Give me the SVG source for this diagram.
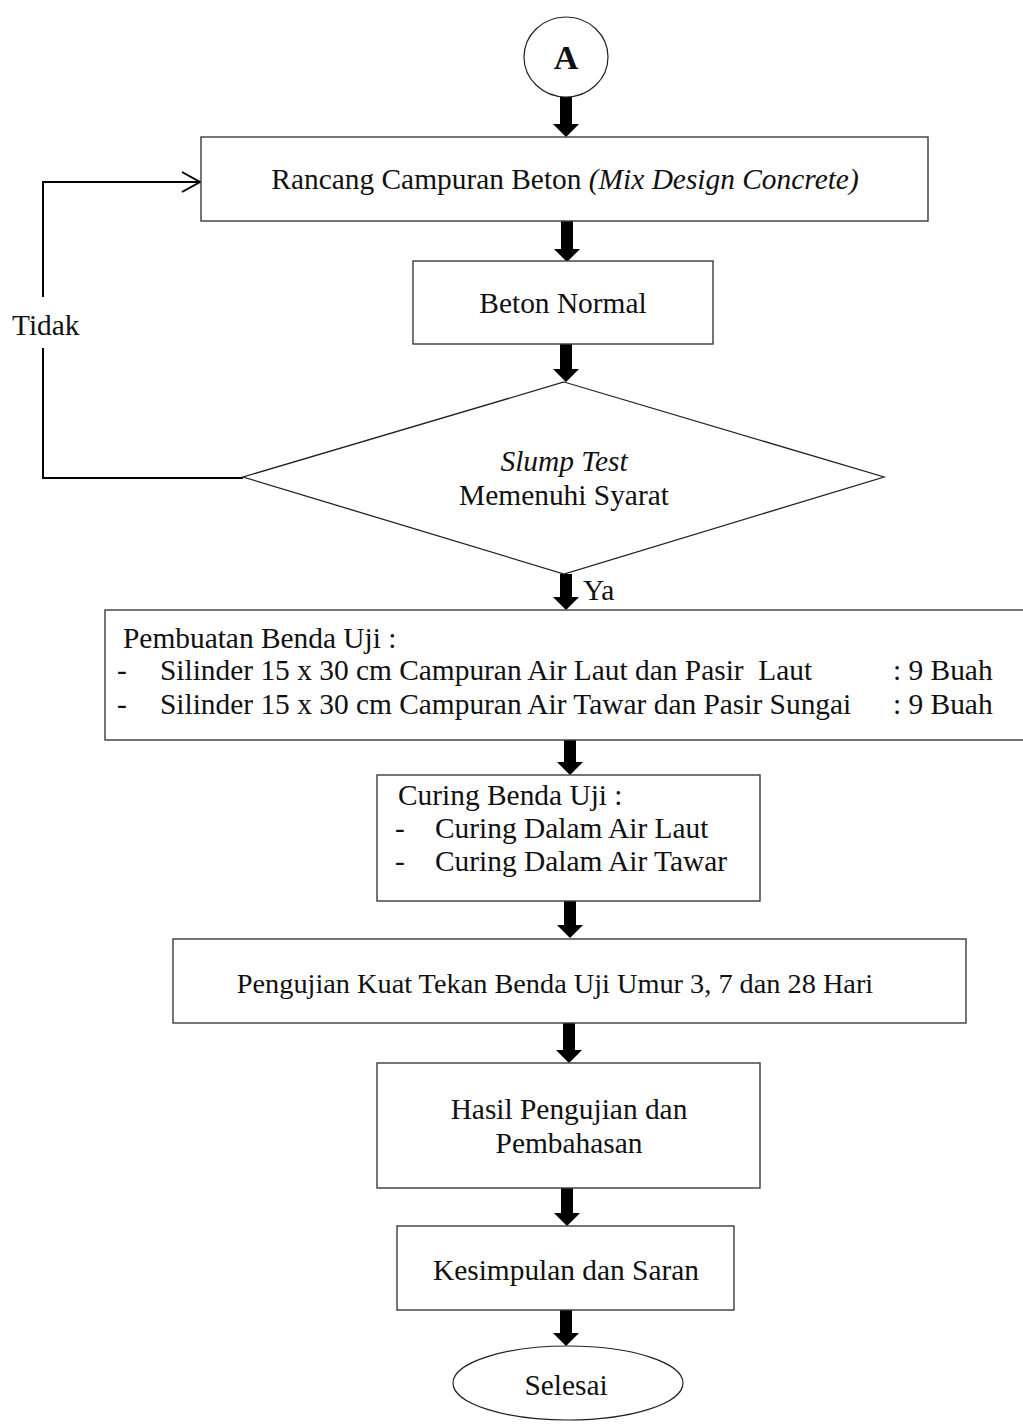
<svg xmlns="http://www.w3.org/2000/svg" width="1023" height="1427" viewBox="0 0 1023 1427">
<style>
.box{fill:#fff;stroke:#3a3a3a;stroke-width:1.4}
.t{font-family:"Liberation Serif","Times New Roman",serif;font-size:29.4px;fill:#111}
.c{text-anchor:middle}
.i{font-style:italic}
.arr{fill:#000}
.ln{fill:none;stroke:#000;stroke-width:2}
</style>
<rect width="1023" height="1427" fill="#fff"/>
<g id="connectors">
<polygon class="arr" points="560,97 572,97 572,124 579,124 566,137 553,124 560,124"/>
<polygon class="arr" points="561,221 573,221 573,249 580,249 567,262 554,249 561,249"/>
<polygon class="arr" points="560,344 572,344 572,369 579,369 566,382 553,369 560,369"/>
<polygon class="arr" points="560,574 572,574 572,597 579,597 566,610 553,597 560,597"/>
<polygon class="arr" points="564,740 576,740 576,762 583,762 570,775 557,762 564,762"/>
<polygon class="arr" points="564,901 576,901 576,925 583,925 570,938 557,925 564,925"/>
<polygon class="arr" points="563,1023 575,1023 575,1050 582,1050 569,1063 556,1050 563,1050"/>
<polygon class="arr" points="561,1188 573,1188 573,1213 580,1213 567,1226 554,1213 561,1213"/>
<polygon class="arr" points="560,1310 572,1310 572,1333 579,1333 566,1346 553,1333 560,1333"/>
<polyline class="ln" points="243,478 43,478 43,348"/>
<polyline class="ln" points="43,297 43,182 200,182"/>
<polyline class="ln" points="182,172 200,182 182,192"/>
<text class="t" x="12" y="335">Tidak</text>
<text class="t" x="583" y="600">Ya</text>
</g>
<g id="start">
<ellipse cx="566" cy="57" rx="42" ry="40" fill="#fff" stroke="#222" stroke-width="1.2"/>
<text class="t c" x="566" y="69" style="font-weight:bold;font-size:34px">A</text>
</g>
<g id="rancang">
<rect class="box" x="201" y="137" width="727" height="84"/>
<text class="t c" x="565" y="189">Rancang Campuran Beton <tspan class="i">(Mix Design Concrete)</tspan></text>
</g>
<g id="beton">
<rect class="box" x="413" y="261" width="300" height="83"/>
<text class="t c" x="563" y="313">Beton Normal</text>
</g>
<g id="slump">
<polygon points="564,382 884,477 564,574 243,477" fill="#fff" stroke="#222" stroke-width="1.3"/>
<text class="t c i" x="564" y="471">Slump Test</text>
<text class="t c" x="564" y="505">Memenuhi Syarat</text>
</g>
<g id="pembuatan">
<rect class="box" x="105" y="610" width="925" height="130"/>
<text class="t" x="123" y="648">Pembuatan Benda Uji :</text>
<text class="t" x="117" y="680">-</text>
<text class="t" x="160" y="680" xml:space="preserve">Silinder 15 x 30 cm Campuran Air Laut dan Pasir  Laut</text>
<text class="t" x="893" y="680">: 9 Buah</text>
<text class="t" x="117" y="714">-</text>
<text class="t" x="160" y="714">Silinder 15 x 30 cm Campuran Air Tawar dan Pasir Sungai</text>
<text class="t" x="893" y="714">: 9 Buah</text>
</g>
<g id="curing">
<rect class="box" x="377" y="775" width="383" height="126"/>
<text class="t" x="398" y="805">Curing Benda Uji :</text>
<text class="t" x="395" y="838">-</text>
<text class="t" x="435" y="838">Curing Dalam Air Laut</text>
<text class="t" x="395" y="871">-</text>
<text class="t" x="435" y="871">Curing Dalam Air Tawar</text>
</g>
<g id="pengujian">
<rect class="box" x="173" y="939" width="793" height="84"/>
<text class="t c" x="555" y="993" style="font-size:28.3px">Pengujian Kuat Tekan Benda Uji Umur 3, 7 dan 28 Hari</text>
</g>
<g id="hasil">
<rect class="box" x="377" y="1063" width="383" height="125"/>
<text class="t c" x="569" y="1119">Hasil Pengujian dan</text>
<text class="t c" x="569" y="1153">Pembahasan</text>
</g>
<g id="kesimpulan">
<rect class="box" x="397" y="1226" width="337" height="84"/>
<text class="t c" x="566" y="1280">Kesimpulan dan Saran</text>
</g>
<g id="selesai">
<ellipse cx="568" cy="1383" rx="115" ry="37" fill="#fff" stroke="#222" stroke-width="1.2"/>
<text class="t c" x="566" y="1395">Selesai</text>
</g>
</svg>
